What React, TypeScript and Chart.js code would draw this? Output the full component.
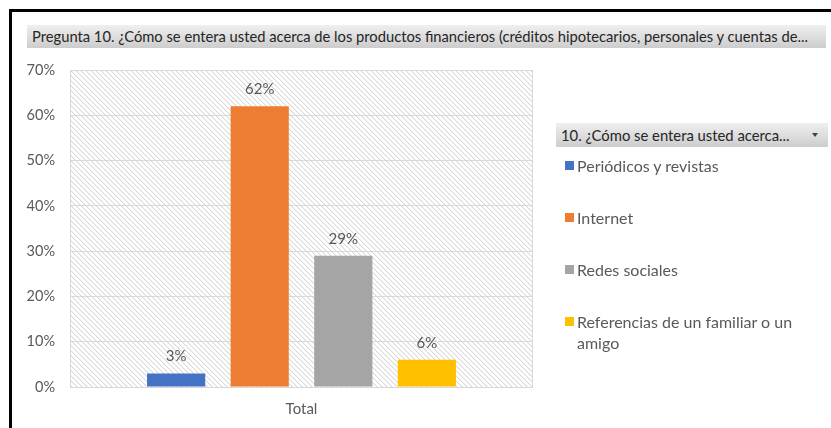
import React, { useEffect, useRef } from "react";
import { Chart, registerables } from "chart.js";

Chart.register(...registerables);

const categories = ["Total"];
const seriesNames = [
  "Periódicos y revistas",
  "Internet",
  "Redes sociales",
  "Referencias de un familiar o un amigo",
];
const seriesValues = [3, 62, 29, 6];
const seriesColors = ["#4472C4", "#ED7D31", "#A5A5A5", "#FFC000"];
const yMax = 70;
const yStep = 10;
const titleText =
  "Pregunta 10. ¿Cómo se entera usted acerca de los productos financieros (créditos hipotecarios, personales y cuentas de...";
const legendTitle = "10. ¿Cómo se entera usted acerca...";

const FONT = "Lato, 'Open Sans', sans-serif";
const GRAY_TEXT = "#595959";

const hatchPlugin = {
  id: "hatchBg",
  beforeDraw(chart: any) {
    const { ctx, chartArea: a } = chart;
    const tile = document.createElement("canvas");
    tile.width = 5;
    tile.height = 5;
    const t = tile.getContext("2d")!;
    t.fillStyle = "#ffffff";
    t.fillRect(0, 0, 5, 5);
    for (let i = 0; i < 5; i++) {
      t.fillStyle = "#dadada";
      t.fillRect(i, i, 1, 1);
      t.fillStyle = "#f0f0f0";
      t.fillRect((i + 1) % 5, i, 1, 1);
    }
    const pat = ctx.createPattern(tile, "repeat");
    ctx.save();
    ctx.fillStyle = pat;
    ctx.fillRect(a.left, a.top, a.right - a.left, a.bottom - a.top);
    ctx.restore();
  },
  beforeDatasetsDraw(chart: any) {
    const { ctx, chartArea: a } = chart;
    ctx.save();
    ctx.strokeStyle = "#d9d9d9";
    ctx.lineWidth = 1;
    ctx.strokeRect(a.left + 0.5, a.top + 0.5, a.right - a.left - 1, a.bottom - a.top);
    ctx.restore();
  },
};

const labelPlugin = {
  id: "barLabels",
  afterDatasetsDraw(chart: any) {
    const { ctx } = chart;
    ctx.save();
    ctx.font = `15px ${FONT}`;
    ctx.fillStyle = GRAY_TEXT;
    ctx.textAlign = "center";
    ctx.textBaseline = "middle";
    chart.data.datasets.forEach((ds: any, di: number) => {
      const meta = chart.getDatasetMeta(di);
      meta.data.forEach((el: any, i: number) => {
        ctx.fillText(`${ds.data[i]}%`, el.x, el.y - 17);
      });
    });
    ctx.restore();
  },
};

export default function App() {
  const canvasRef = useRef<HTMLCanvasElement | null>(null);
  const titleRef = useRef<HTMLSpanElement | null>(null);
  const legTitleRef = useRef<HTMLSpanElement | null>(null);

  useEffect(() => {
    const fit = (el: HTMLSpanElement | null, target: number) => {
      if (!el) return;
      const w = el.offsetWidth;
      if (w > 0) el.style.transform = `scaleX(${target / w})`;
    };
    fit(titleRef.current, 776);
    fit(legTitleRef.current, 229);

    const chart = new Chart(canvasRef.current!, {
      type: "bar",
      data: {
        labels: categories,
        datasets: seriesNames.map((name, i) => ({
          label: name,
          data: [seriesValues[i]],
          backgroundColor: seriesColors[i],
          borderWidth: 0,
          barPercentage: 0.696,
          categoryPercentage: 0.722,
        })),
      },
      options: {
        animation: false,
        responsive: false,
        maintainAspectRatio: false,
        layout: { padding: { left: 12, right: 298, top: 70, bottom: 0 } },
        plugins: {
          legend: { display: false },
          title: { display: false },
          tooltip: { enabled: false },
        },
        scales: {
          x: {
            grid: { display: false, drawTicks: false },
            border: { display: false },
            ticks: {
              color: GRAY_TEXT,
              font: { family: FONT, size: 15 },
              padding: 13,
            },
            afterFit: (s: any) => {
              s.height = 41;
            },
          },
          y: {
            min: 0,
            max: yMax,
            grid: { color: "#d9d9d9", drawTicks: false, lineWidth: 1 },
            border: { display: false },
            ticks: {
              stepSize: yStep,
              color: GRAY_TEXT,
              font: { family: FONT, size: 14.5 },
              padding: 15,
              callback: (v: any) => `${v}%`,
            },
            afterFit: (s: any) => {
              s.width = 58;
            },
          },
        },
      },
      plugins: [hatchPlugin, labelPlugin],
    });
    return () => chart.destroy();
  }, []);

  const gradient = "linear-gradient(#efefef, #cdcdcd)";

  return (
    <div
      style={{
        position: "absolute",
        left: 0,
        top: 0,
        width: 831,
        height: 428,
        overflow: "hidden",
        background: "#ffffff",
        fontFamily: FONT,
      }}
    >
      <canvas
        ref={canvasRef}
        width={831}
        height={428}
        style={{ position: "absolute", left: 0, top: 0, width: 831, height: 428 }}
      />
      {/* black frame */}
      <div style={{ position: "absolute", left: 9, top: 9, width: 3, height: 430, background: "#000" }} />
      <div style={{ position: "absolute", left: 9, top: 9, width: 830, height: 3, background: "#000" }} />
      {/* title bar */}
      <div
        style={{
          position: "absolute",
          left: 27,
          top: 25,
          width: 799,
          height: 23,
          background: gradient,
          overflow: "hidden",
        }}
      >
        <span
          ref={titleRef}
          style={{
            position: "absolute",
            left: 5,
            top: 0,
            lineHeight: "23px",
            fontSize: 15,
            color: "#262626",
            whiteSpace: "nowrap",
            transformOrigin: "left center",
            display: "inline-block",
          }}
        >
          {titleText}
        </span>
      </div>
      {/* legend header */}
      <div
        style={{
          position: "absolute",
          left: 556,
          top: 123,
          width: 272,
          height: 24,
          background: gradient,
        }}
      >
        <span
          ref={legTitleRef}
          style={{
            position: "absolute",
            left: 5,
            top: 0,
            lineHeight: "24px",
            fontSize: 15,
            color: "#262626",
            whiteSpace: "nowrap",
            transformOrigin: "left center",
            display: "inline-block",
          }}
        >
          {legendTitle}
        </span>
        <div
          style={{
            position: "absolute",
            left: 256,
            top: 10,
            width: 0,
            height: 0,
            borderLeft: "3px solid transparent",
            borderRight: "3px solid transparent",
            borderTop: "4px solid #404040",
          }}
        />
      </div>
      {/* legend items */}
      {seriesNames.map((name, i) => {
        const tops = [155, 207, 259, 311];
        return (
          <div key={name} style={{ position: "absolute", left: 565, top: tops[i] }}>
            <div
              style={{
                position: "absolute",
                left: 0,
                top: 6,
                width: 9,
                height: 9,
                background: seriesColors[i],
              }}
            />
            <div
              style={{
                position: "absolute",
                left: 12,
                top: 0,
                width: 250,
                fontSize: 16,
                lineHeight: "21px",
                color: GRAY_TEXT,
              }}
            >
              {name}
            </div>
          </div>
        );
      })}
    </div>
  );
}
